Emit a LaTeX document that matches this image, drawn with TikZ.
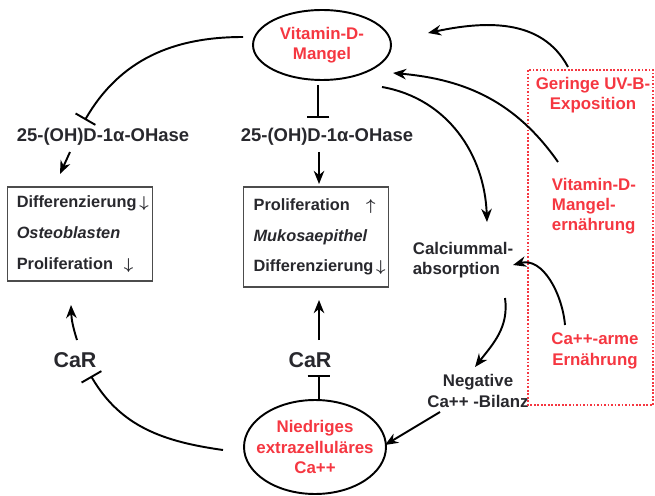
\documentclass[tikz,border=0pt]{standalone}
\usepackage{amsmath}
\usepackage{fontspec}
\setmainfont{Liberation Sans}
\usepackage{tikz}
\usetikzlibrary{arrows.meta,shapes.geometric}

\definecolor{mangelrot}{RGB}{245,55,65}
\definecolor{schrift}{RGB}{40,40,45}

\begin{document}
\begin{tikzpicture}[x=0.02cm,y=0.02cm,
    every node/.style={text=schrift,font=\bfseries\fontsize{9.6}{11.5}\selectfont},
    rottext/.style={text=mangelrot,align=center},
    oval/.style={draw,shape=ellipse,line width=1.1pt,inner ysep=0pt,inner xsep=-5pt},
    kasten/.style={draw=black!70,line width=0.6pt,align=left,inner xsep=5pt,font=\bfseries\fontsize{9.3}{11.5}\selectfont},
    pfeil/.style={-{Stealth[length=7.5pt,width=6pt]},line width=1.1pt},
    hemmung/.style={-{Bar[width=13pt,line width=1.1pt]},line width=1.1pt}]

\useasboundingbox (0,0) rectangle (655,-496);

\node[oval,rottext,minimum width=2.76cm,minimum height=1.4cm] (mangel) at (322,-45) {Vitamin-D-\\Mangel};
\node[oval,rottext,minimum width=2.84cm,minimum height=1.88cm] (niedrig) at (315,-447) {Niedriges\\extrazelluläres\\Ca++};

\node[font=\bfseries\fontsize{10.5}{12}\selectfont] (ohaseL) at (103,-137) {25-(OH)D-1α-OHase};
\node[font=\bfseries\fontsize{10.5}{12}\selectfont] (ohaseM) at (327,-137) {25-(OH)D-1α-OHase};

\node[kasten,text width=72pt,minimum height=1.88cm] (boxL) at (80,-234) {Differenzierung\,$\boldsymbol{\downarrow}$\\[6pt]\textit{Osteoblasten}\\[6pt]Proliferation~~$\boldsymbol{\downarrow}$};
\node[kasten,text width=71pt,inner xsep=5.7pt,minimum height=2cm] (boxM) at (316,-237) {Proliferation~~~$\boldsymbol{\uparrow}$\\[6pt]\textit{Mukosaepithel}\\[6pt]Differenzierung\,$\boldsymbol{\downarrow}$};

\node[font=\bfseries\fontsize{12.2}{14}\selectfont] (carL) at (75,-360) {CaR};
\node[font=\bfseries\fontsize{12.2}{14}\selectfont] (carM) at (310,-360) {CaR};

\node[align=left] (calc) at (463,-260) {Calciummal-\\absorption};
\node[align=center] (bilanz) at (478,-391) {Negative\\Ca++ -Bilanz};

\node[rottext] (uvb) at (593,-95) {Geringe UV-B-\\Exposition};
\node[rottext,align=left] (diet) at (594,-206) {Vitamin-D-\\Mangel-\\ernährung};
\node[rottext] (caarm) at (595,-351) {Ca++-arme\\Ernährung};

\draw[mangelrot,line width=1pt,dash pattern=on 1pt off 1pt] (528,-70) rectangle (653,-405);

% Hemmungen
\draw[hemmung] ([shift={(-79,8)}]mangel.center) to[out=180,in=60] ([shift={(-18,17)}]ohaseL.center);
\draw[hemmung] ([shift={(-4,-40)}]mangel.center) -- ([shift={(-9,19)}]ohaseM.center);
\draw[hemmung] ([shift={(4,47)}]niedrig.center) -- ([shift={(9,-15)}]carM.center);
\draw[hemmung] ([shift={(-92,-3)}]niedrig.center) to[out=172,in=-60] ([shift={(16,-16)}]carL.center);

% Pfeile
\draw[pfeil] ([shift={(-33,-15)}]ohaseL.center) -- ([shift={(-20,60)}]boxL.center);
\draw[pfeil] ([shift={(-8,-15)}]ohaseM.center) -- ([shift={(3,53)}]boxM.center);
\draw[pfeil] ([shift={(9,20)}]carM.center) -- ([shift={(3,-63)}]boxM.center);
\draw[pfeil] ([shift={(2,20)}]carL.center) to[bend left=8] ([shift={(-9,-71)}]boxL.center);
\draw[pfeil] ([shift={(60,-42)}]mangel.center) to[out=-10,in=92] ([shift={(24,38)}]calc.center);
\draw[pfeil] ([shift={(42,-38)}]calc.center) to[out=-82,in=52] ([shift={(-3,24)}]bilanz.center);
\draw[pfeil] ([shift={(-38,-21)}]bilanz.center) -- ([shift={(70,2)}]niedrig.center);
\draw[pfeil] ([shift={(-25,28)}]uvb.center) to[out=118,in=12] ([shift={(106,12)}]mangel.center);
\draw[pfeil] ([shift={(-36,44)}]diet.center) to[out=125,in=-5] ([shift={(71,-28)}]mangel.center);
\draw[pfeil] ([shift={(-30,26)}]caarm.center) to[out=95,in=15] ([shift={(50,-5)}]calc.center);

\end{tikzpicture}
\end{document}
